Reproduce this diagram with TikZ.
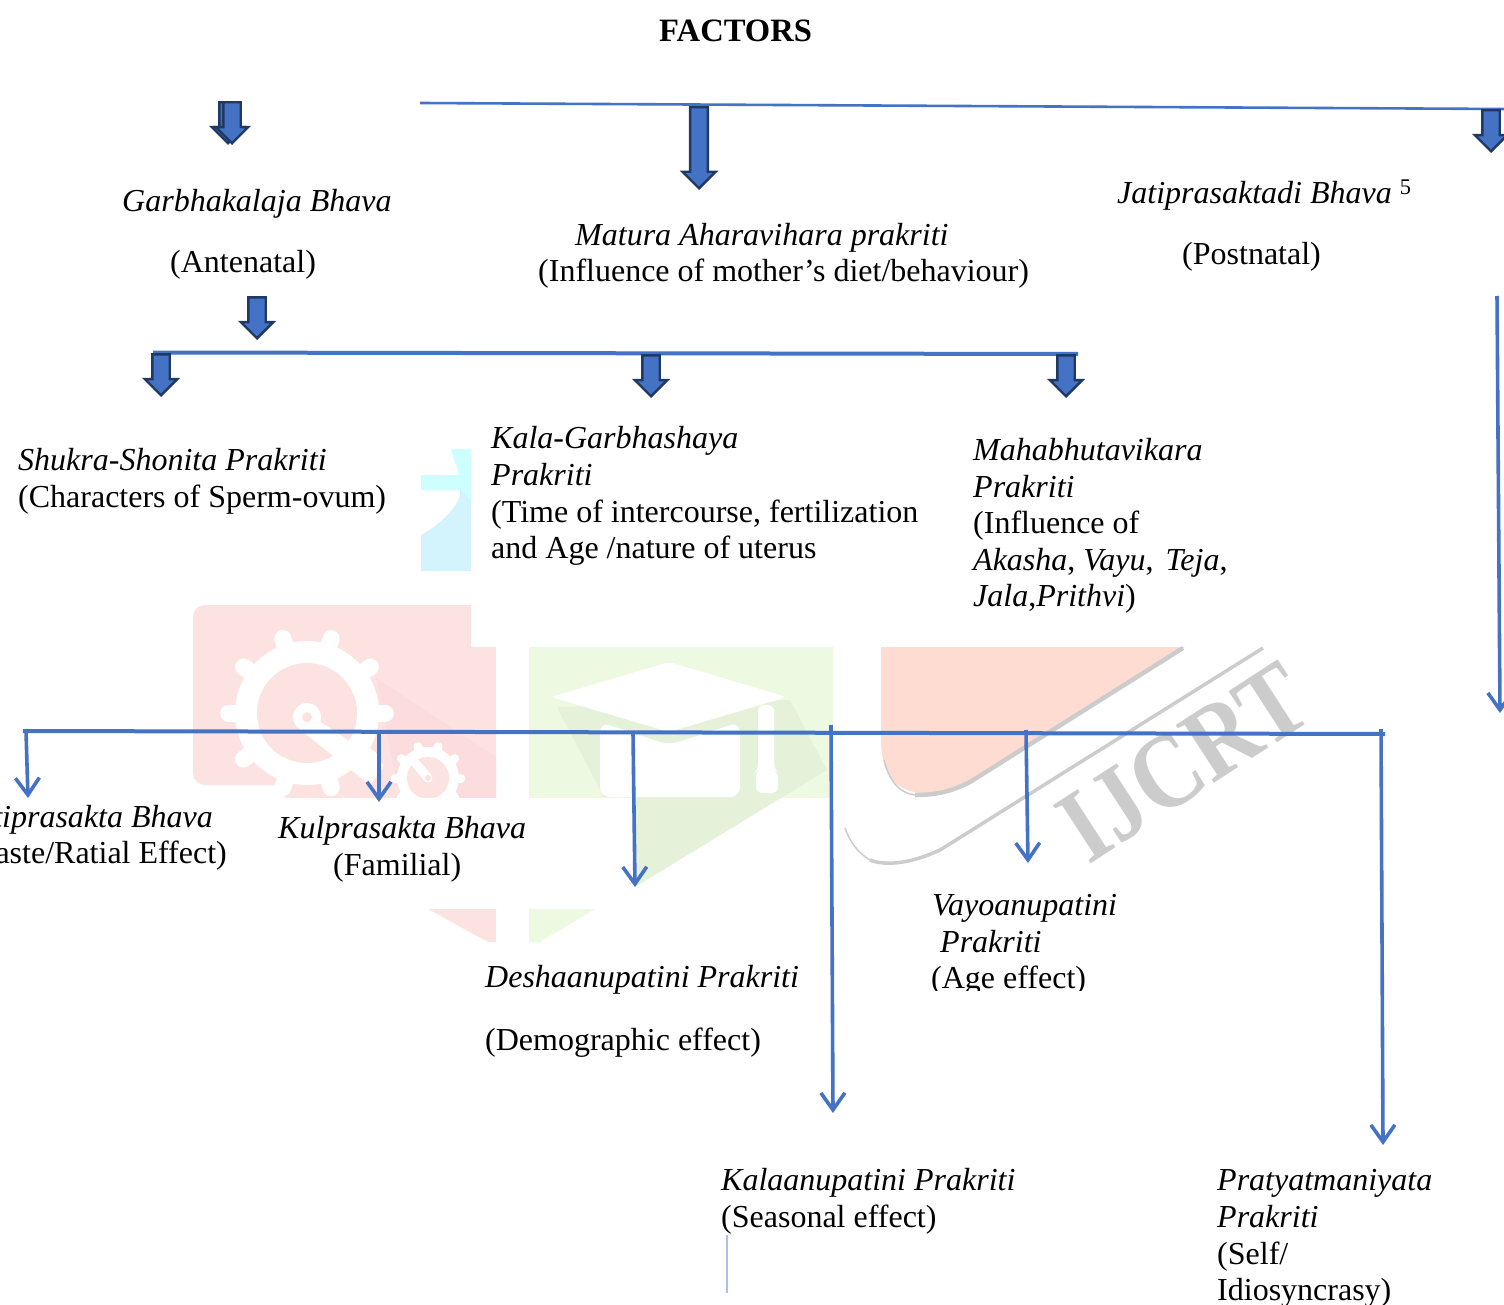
\documentclass[tikz,border=0pt]{standalone}
\usepackage{fontspec}
\setmainfont{Liberation Serif}
\usetikzlibrary{arrows.meta,shapes.arrows}
\definecolor{lineblue}{HTML}{4472C4}
\definecolor{darkblue}{HTML}{1F3864}
\definecolor{redmark}{HTML}{FDE2E2}
\definecolor{redshade}{HTML}{FCDCDC}
\definecolor{greenmark}{HTML}{EEF9E2}
\definecolor{greenshade}{HTML}{E5F2D9}
\definecolor{salmonmark}{HTML}{FEDCD2}
\definecolor{graymark}{HTML}{CCCCCC}
\definecolor{cyanmark}{HTML}{D3F4FD}
\definecolor{cyantop}{HTML}{CDFFFF}
\tikzset{
  label/.style={inner sep=0pt, anchor=base west, align=left, yshift=-0.4pt, font=\fontsize{32}{36.6}\selectfont},
  blockarrow/.style={single arrow, draw=darkblue, fill=lineblue, line width=2.4pt, inner sep=7.5pt,
    shape border rotate=270, anchor=tip, single arrow head extend=7.5pt, minimum width=30pt},
  barline/.style={draw=lineblue, line width=#1},
  thinarrow/.style={draw=lineblue, line width=3.6pt, -{Straight Barb[length=17pt,width=24pt,line width=3.6pt]}},
}
\begin{document}
\begin{tikzpicture}[x=1pt,y=-1pt]
  \useasboundingbox (0,0) rectangle (1504,1305);
  \clip (0,0) rectangle (1504,1305);

  % faded logo behind the chart
  \fill[cyanmark] (451,449) .. controls (454,458) and (457,466) .. (459,475) -- (421,475) -- (421,490)
    -- (460,490) .. controls (463,500) and (445,522) .. (421,535) -- (421,571) -- (471,571) -- (471,449) -- cycle;
  \fill[cyantop] (451,449) .. controls (454,458) and (457,466) .. (459,475) -- (421,475) -- (421,490)
    -- (460,490) -- (471,500) -- (471,449) -- cycle;
  \fill[redmark] (471,647) -- (471,605) [rounded corners=12pt] -- (193,605) -- (193,785) [sharp corners] -- (285,785)
    -- (285,798) -- (496,798) -- (496,647) -- cycle;
  \fill[redshade] (376,678) -- (496,757) -- (496,798) -- (400,798) -- cycle;
  \fill[redmark] (428,909) -- (496,909) -- (496,942) -- (488,942) -- cycle;
  \foreach \cx/\cy/\ro/\ri/\tw in {307/713/72/50/17, 428/778/31/21/9} {
    \fill[white] (\cx,\cy) circle [radius=\ro];
    \foreach \a in {0,36,...,324}
      \draw[white, line width=\tw pt, line cap=round] (\cx,\cy) ++(\a:\ro-3) -- ++(\a:\tw*0.55);
    \fill[redmark] (\cx,\cy) circle [radius=\ri];
  }
  \fill[white, rounded corners=4pt] (300,708) -- (385,765) -- (370,785) -- (298,728) -- cycle;
  \fill[white] (307,717) circle [radius=14];
  \fill[redmark] (307,717) circle [radius=5];
  \draw[white, line width=9pt, line cap=round] (411,758) -- (428,778);
  \fill[redmark] (428,778) circle [radius=3];
  \fill[white] (196,798) rectangle (500,909);

  \fill[greenmark] (529,647) rectangle (833,798);
  \fill[greenshade] (557,707) -- (604,797) -- (633,797) -- (635,887) -- (827,770) -- (790,700) -- cycle;
  \fill[white, rounded corners=10pt] (600,722) -- (600,797) -- (740,797) -- (740,722) -- (669,745) -- cycle;
  \fill[white, rounded corners=6pt] (758,705) -- (774,705) -- (774,770) -- (778,772) -- (778,793) -- (756,793) -- (756,772) -- (758,770) -- cycle;
  \fill[white, rounded corners=5pt] (551,697) -- (669,662) -- (787,697) -- (669,732) -- cycle;
  \fill[greenmark] (529,909) -- (595,909) -- (540,942) -- (529,942) -- cycle;

  \fill[salmonmark] (881,647) -- (1185,647) -- (970,780) .. controls (950,790) and (935,793) .. (920,793)
    .. controls (895,790) and (883,775) .. (881,745) -- cycle;
  \draw[graymark, line width=4.5pt] (1183,648) -- (970,782) .. controls (950,792) and (935,795) .. (915,795);
  \draw[graymark, line width=1.5pt] (915,795) .. controls (900,793) and (890,783) .. (884,760);
  \draw[graymark, line width=3.5pt] (1263,648) -- (940,850) .. controls (910,864) and (885,866) .. (870,860);
  \draw[graymark, line width=1.5pt] (870,860) .. controls (858,853) and (850,842) .. (845,828);
  \node[text=graymark, font=\fontsize{92}{92}\selectfont\bfseries, rotate=33, yscale=1.15, inner sep=0pt] (ijcrt) at (1184,762) {IJCRT};

  % titles
  \node[label, font=\fontsize{32.6}{36.6}\selectfont\bfseries] (factors) at (659,41) {FACTORS};
  \node[label] (garbha) at (122,211) {\textit{Garbhakalaja Bhava}};
  \node[label] (antenatal) at (170,272) {(Antenatal)};
  \node[label] (matura) at (575,245) {\textit{Matura Aharavihara prakriti}};
  \node[label] (mother) at (538,281) {(Influence of mother’s diet/behaviour)};
  \node[label] (jati) at (1117,203) {\textit{Jatiprasaktadi Bhava} \textsuperscript{5}};
  \node[label] (postnatal) at (1182,264) {(Postnatal)};

  \node[label] (shukra) at (18,470) {\textit{Shukra-Shonita Prakriti}};
  \node[label] (sperm) at (18,507) {(Characters of Sperm-ovum)};
  \node[label] (kala1) at (491,448) {\textit{Kala-Garbhashaya}};
  \node[label] (kala2) at (491,485) {\textit{Prakriti}};
  \node[label] (kala3) at (491,522) {(Time of intercourse, fertilization};
  \node[label] (kala4) at (491,558) {and Age /nature of uterus};
  \node[label] (maha1) at (973,460) {\textit{Mahabhutavikara}};
  \node[label] (maha2) at (973,497) {\textit{Prakriti}};
  \node[label] (maha3) at (973,533) {(Influence of};
  \node[label] (maha4) at (973,570) {\textit{Akasha}, \textit{Vayu}, \kern4pt\textit{Teja},};
  \node[label] (maha5) at (973,606) {\textit{Jala},\textit{Prithvi})};

  \node[label, anchor=base east] (jatib) at (213,827) {\textit{Jatiprasakta Bhava}};
  \node[label, anchor=base east] (caste) at (227,863) {(Caste/Ratial Effect)};
  \node[label] (kul) at (278,838) {\textit{Kulprasakta Bhava}};
  \node[label] (familial) at (333,875) {(Familial)};
  \node[label] (desha) at (485,987) {\textit{Deshaanupatini Prakriti}};
  \node[label] (demo) at (485,1050) {(Demographic effect)};
  \node[label] (vayo1) at (932,915) {\textit{Vayoanupatini}};
  \node[label] (vayo2) at (940,952) {\textit{Prakriti}};
  \node[label] (age) at (931,988) {(Age effect)};
  \fill[white] (925,990.5) rectangle (1095,1002);
  \node[label] (kalaa) at (721,1190) {\textit{Kalaanupatini Prakriti}};
  \node[label] (season) at (721,1227) {(Seasonal effect)};
  \node[label] (praty1) at (1217,1190) {\textit{Pratyatmaniyata}};
  \node[label] (praty2) at (1217,1227) {\textit{Prakriti}};
  \node[label] (self) at (1217,1264) {(Self/};
  \node[label] (idio) at (1217,1300) {Idiosyncrasy)};

  % bars
  \coordinate (topl) at (420,103);
  \coordinate (topr) at (1504,109);
  \coordinate (midl) at (153,352.5);
  \coordinate (midr) at (1078,354);
  \coordinate (lowl) at (23,731);
  \coordinate (lowr) at (1385,734);
  \draw[barline=2.6pt] (topl) -- (topr);
  \draw[barline=4pt] (midl) -- (midr);
  \draw[barline=4pt] (lowl) -- (lowr);

  % block arrows
  \node[blockarrow, minimum height=41pt] (garbhaa) at (228,145) {};
  \node[blockarrow, minimum height=41pt] (garbhab) at (232,145) {};
  \node[blockarrow, minimum height=81pt, minimum width=33pt] (maturaa) at (699,190) {};
  \node[blockarrow, minimum height=41pt] (jatia) at (1491,153) {};
  \node[blockarrow, minimum height=41pt] (antea) at (257,340) {};
  \node[blockarrow, minimum height=41pt] (shukraa) at (161,397) {};
  \node[blockarrow, minimum height=41pt] (kalaarrow) at (651,398) {};
  \node[blockarrow, minimum height=41pt] (mahaa) at (1066,398) {};

  % thin arrows
  \foreach \nm/\xa/\ya/\xb/\yb in {post/1497/296/1500/713, jb/26/731/28/798, kp/379/732/379/802, dp/633/733/635/887,
      kl/831/725/833/1113, vp/1026/730/1028/863, pp/1381/729/1383/1145} {
    \coordinate (\nm s) at (\xa,\ya);
    \coordinate (\nm e) at (\xb,\yb);
    \draw[thinarrow] (\nm s) -- (\nm e);
  }
  \coordinate (faintt) at (727,1235);
  \coordinate (faintb) at (727,1293);
  \draw[color=lineblue!45, line width=1.5pt] (faintt) -- (faintb);
\end{tikzpicture}
\end{document}
